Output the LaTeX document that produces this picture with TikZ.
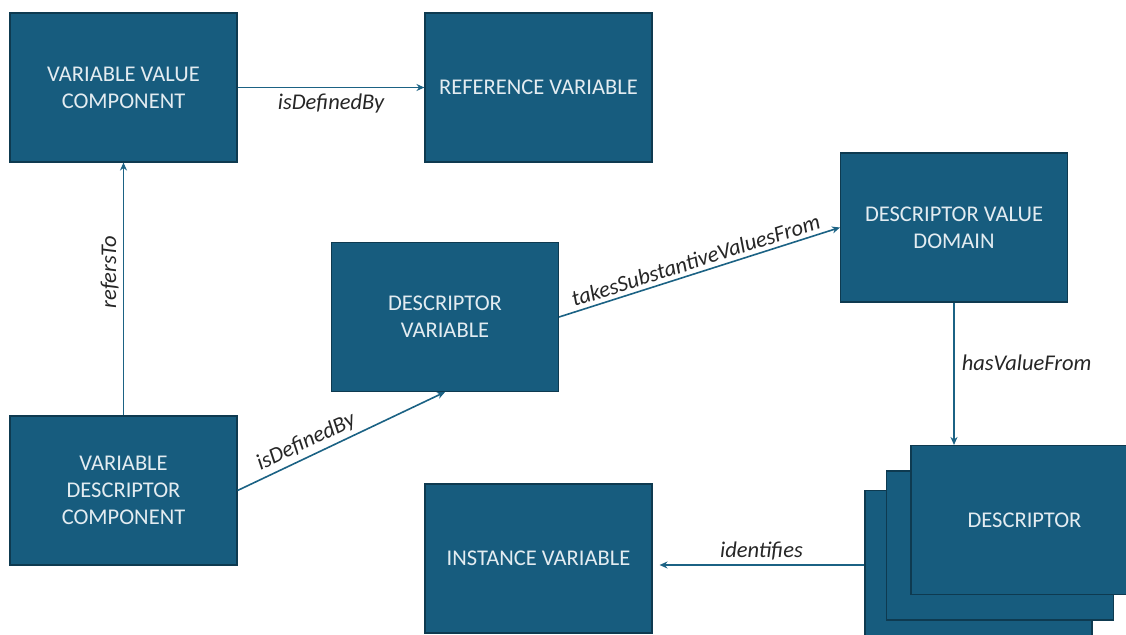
\documentclass[tikz,border=0pt]{standalone}
\usepackage{fontspec}
\setmainfont{Carlito}
\usetikzlibrary{arrows.meta}
\definecolor{boxfill}{HTML}{175C7E}
\definecolor{boxedge}{HTML}{0E3A50}
\definecolor{boxtext}{HTML}{E3ECF1}
\definecolor{linkcol}{HTML}{1B6284}
\tikzset{
  entity/.style={draw=boxedge, line width=1.1pt, fill=boxfill, text=boxtext,
    minimum width=227pt, minimum height=149pt, inner sep=0pt, align=center,
    font=\fontsize{22.5}{27}\selectfont},
  link/.style={draw=linkcol, line width=1.6pt, -{Stealth[length=8pt,width=7pt]}},
  lbl/.style={font=\fontsize{22.5}{26}\selectfont\itshape, text=black!85, inner sep=4pt}
}
\begin{document}
\begin{tikzpicture}[x=1pt, y=-1pt]
  \useasboundingbox (0,0) rectangle (1126,634);
  \clip (0,0) rectangle (1126,634);

  % top row
  \node[entity] (vvc) at (123.5,87.5) {VARIABLE VALUE\\COMPONENT};
  \node[entity] (ref) at (538.5,87.5) {REFERENCE VARIABLE};

  % middle
  \node[entity] (dv) at (445,317) {DESCRIPTOR\\VARIABLE};
  \node[entity] (dvd) at (954,227.5) {DESCRIPTOR VALUE\\DOMAIN};

  % bottom row
  \node[entity] (vdc) at (123.5,490.5) {VARIABLE\\DESCRIPTOR\\COMPONENT};
  \node[entity] (inst) at (538.5,558.5) {INSTANCE VARIABLE};

  % stacked descriptor boxes, back to front
  \node[entity] (desc3) at (978.5,565) {};
  \node[entity] (desc2) at (1000,545.5) {};
  \node[entity] (desc1) at (1024.5,520) {DESCRIPTOR};

  % relations
  \draw[link] (vvc.east) -- node[lbl, below, yshift=-2pt] {isDefinedBy} (ref.west);
  \draw[link] (vdc.north) -- node[lbl, sloped, above, pos=0.567] {refersTo} (vvc.south);
  \draw[link] (vdc.east) -- node[lbl, sloped, above, pos=0.36] {isDefinedBy} (dv.south);
  \draw[link] (dv.east) -- node[lbl, sloped, above, pos=0.5] {takesSubstantiveValuesFrom} (dvd.west);
  \draw[link] (dvd.south) -- node[lbl, right, pos=0.42, xshift=3pt] {hasValueFrom} (dvd.south |- desc1.north);
  \draw[link, shorten >=7pt] (desc3.west) -- node[lbl, above, xshift=3pt] {identifies} (desc3.west -| inst.east);
\end{tikzpicture}
\end{document}
